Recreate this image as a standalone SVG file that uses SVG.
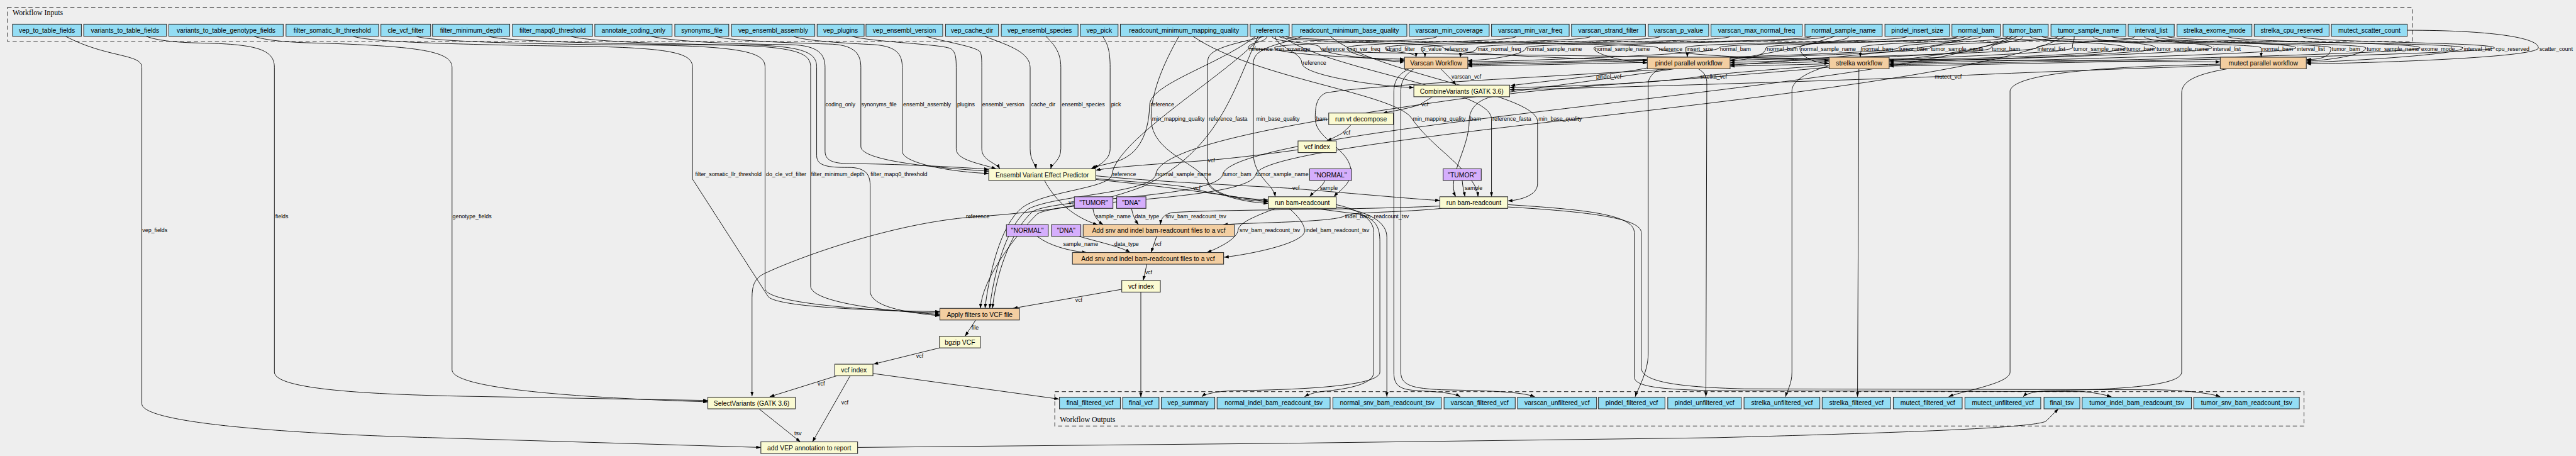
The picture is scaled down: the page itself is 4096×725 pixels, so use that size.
<svg xmlns="http://www.w3.org/2000/svg" width="4096" height="725" viewBox="0 0 4096 725">
<defs>
<style>
.bg{fill:#eeeeee}
.cl{fill:none;stroke:#444;stroke-width:1.5;stroke-dasharray:9,6}
.io{fill:#94ddf4;stroke:#333;stroke-width:1.5}
.st{fill:#fafad2;stroke:#333;stroke-width:1.5}
.wf{fill:#f3cea1;stroke:#333;stroke-width:1.5}
.cn{fill:#d5aefc;stroke:#333;stroke-width:1.5}
.nt{font-family:"Liberation Sans",Arial,sans-serif;font-size:14px;fill:#000;text-anchor:middle}
.ct{font-family:"Liberation Serif","Times New Roman",serif;font-size:16px;fill:#000}
.el{font-family:"Liberation Sans",Arial,sans-serif;font-size:12px;fill:#000}
.e{fill:none;stroke:#000;stroke-width:1.2;marker-end:url(#ah)}
</style>
<marker id="ah" viewBox="0 0 10 7" refX="10" refY="3.5" markerWidth="10" markerHeight="7" orient="auto" markerUnits="userSpaceOnUse"><path d="M0,0 L10,3.5 L0,7 z" fill="#000"/></marker>
</defs>
<rect class="bg" x="0" y="0" width="4096" height="725"/>
<g transform="scale(0.7395)">
<g id="clusters">
<rect class="cl" x="16" y="16" width="5171" height="73"/>
<text class="ct" x="27" y="32">Workflow Inputs</text>
<rect class="cl" x="2268" y="842" width="2686" height="74"/>
<text class="ct" x="2279" y="908">Workflow Outputs</text>
</g>
<g id="connectors">
<!-- fields to report -->
<path class="e" d="M141,78 C230,125 305,115 305,145 L305,868 C305,915 700,935 930,941 L1636,962"/>
<path class="e" d="M314,78 C345,90 400,92 450,93 C560,96 590,110 590,145 L590,800 C590,838 800,848 1000,852 L1522,861"/>
<path class="e" d="M546,78 C580,90 650,92 700,93 C900,100 972,110 972,145 L972,795 C972,840 1300,857 1522,864"/>
<!-- filter params to Apply filters -->
<path class="e" d="M759,78 C790,88 900,95 1276,100 C1460,104 1489,118 1489,145 L1489,385 L1652,638 C1675,662 1900,668 2021,670"/>
<path class="e" d="M895,78 C920,88 1100,95 1400,97 C1620,100 1645,118 1645,145 L1645,620 C1645,655 1900,668 2021,673"/>
<path class="e" d="M1050,78 C1080,88 1300,95 1560,97 C1725,100 1743,118 1743,145 L1743,615 C1743,650 1900,668 2021,676"/>
<path class="e" d="M1227,78 C1260,88 1400,95 1620,97 C1740,100 1756,118 1756,145 L1756,335 C1756,360 1790,360 1830,360 C1866,362 1871,380 1871,400 L1871,625 C1871,660 1950,672 2021,679"/>
<!-- VEP inputs -->
<path class="e" d="M1400,78 C1440,88 1560,95 1700,96 C1762,98 1774,118 1774,145 L1774,325 C1774,350 1800,352 1840,352 C1950,353 2070,360 2126,364"/>
<path class="e" d="M1537,78 C1570,88 1700,92 1790,95 C1840,98 1851,118 1851,145 L1851,315 C1851,345 2000,360 2126,368"/>
<path class="e" d="M1706,78 C1730,88 1820,93 1880,96 C1930,100 1940,118 1940,145 L1940,325 C1940,352 2050,370 2126,373"/>
<path class="e" d="M1832,78 C1870,90 2030,95 2045,105 C2055,112 2056,125 2056,145 L2056,320 C2056,345 2110,352 2142,363"/>
<path class="e" d="M1991,78 C2030,90 2100,100 2108,112 C2111,120 2111,130 2111,145 L2111,320 C2111,345 2142,350 2150,363"/>
<path class="e" d="M2117,78 C2160,95 2215,110 2215,145 L2215,320 C2215,345 2226,352 2228,363"/>
<path class="e" d="M2249,78 C2265,95 2281,110 2281,145 L2281,320 C2281,345 2262,352 2259,363"/>
<path class="e" d="M2371,78 C2382,95 2387,110 2387,145 L2387,320 C2387,345 2360,355 2352,363"/>
<path class="e" d="M2700,78 C2620,140 2474,180 2472,225 C2470,300 2440,340 2390,350 C2370,355 2355,358 2346,363"/>
<path class="e" d="M2791,322 C2700,335 2620,343 2594,345 C2500,352 2400,358 2356,366"/>
<!-- reference to SelectVariants and Apply filters -->
<path class="e" d="M2705,78 C2650,200 2620,320 2460,400 C2330,450 2200,458 2075,468 C1900,485 1700,560 1640,590 C1622,600 1617,615 1617,640 L1617,852"/>
<path class="e" d="M2712,78 C2640,160 2400,300 2391,375 C2388,405 2250,410 2200,445 C2150,480 2125,600 2118,663"/>
<path class="e" d="M3945,78 C3700,170 2500,250 2485,375 C2480,415 2260,420 2210,450 C2160,490 2135,600 2128,663"/>
<path class="e" d="M4328,78 C4100,190 2650,270 2629,375 C2620,425 2270,425 2220,455 C2170,500 2140,600 2134,663"/>
<path class="e" d="M4440,78 C4200,210 2720,290 2700,375 C2690,430 2280,430 2230,460 C2180,510 2112,600 2108,663"/>
<!-- readcount inputs -->
<path class="e" d="M2535,78 C2500,140 2475,200 2475,255 C2475,330 2580,350 2600,395 C2612,420 2680,433 2727,433"/>
<path class="e" d="M2718,78 C2680,90 2597,100 2597,130 L2597,390 C2597,418 2680,436 2727,437"/>
<path class="e" d="M2800,78 C2760,95 2695,100 2695,135 L2695,330 C2695,380 2738,395 2742,423"/>
<path class="e" d="M4240,78 C4100,140 3000,170 2850,200 C2830,210 2828,230 2828,255 C2828,300 2905,320 2905,370 C2905,395 2880,410 2868,423"/>
<path class="e" d="M2565,78 C2700,170 3000,200 3036,255 C3080,320 3175,370 3178,423"/>
<path class="e" d="M4338,78 C4200,150 3300,180 3200,210 C3170,220 3159,240 3159,260 C3159,320 3110,380 3130,423"/>
<path class="e" d="M2757,78 C2850,150 3205,190 3207,255 L3207,423"/>
<path class="e" d="M2860,78 C2960,160 3300,200 3306,260 L3306,395 C3306,420 3270,430 3242,432"/>
<path class="e" d="M2356,384 C2450,392 2540,398 2563,405 C2610,418 2680,428 2727,430"/>
<path class="e" d="M2356,378 C2500,392 2700,400 2776,405 C2900,415 3040,428 3096,431"/>
<path class="e" d="M2849,388 C2843,402 2825,412 2816,423"/>
<path class="e" d="M3144,388 C3145,402 3148,412 3150,423"/>
<!-- add readcounts -->
<path class="e" d="M2246,388 C2262,420 2300,465 2360,483"/>
<path class="e" d="M2350,448 C2352,465 2360,475 2372,483"/>
<path class="e" d="M2433,448 C2436,465 2442,475 2448,483"/>
<path class="e" d="M3096,443 C2900,452 2620,450 2520,457 C2500,462 2496,472 2495,483"/>
<path class="e" d="M3100,448 C3000,458 2900,455 2890,465 C2860,478 2700,478 2630,483"/>
<path class="e" d="M2742,448 C2700,465 2664,478 2662,495 C2660,515 2615,535 2595,543"/>
<path class="e" d="M2772,448 C2795,468 2806,485 2805,498 C2800,525 2680,548 2632,553"/>
<path class="e" d="M2230,508 C2255,528 2300,540 2337,543"/>
<path class="e" d="M2320,508 C2360,520 2410,530 2430,543"/>
<path class="e" d="M2487,508 L2475,543"/>
<path class="e" d="M2466,568 L2458,603"/>
<path class="e" d="M2412,622 L2178,663"/>
<path class="e" d="M2098,688 L2075,723"/>
<path class="e" d="M2020,748 L1878,783"/>
<path class="e" d="M1799,808 L1655,853"/>
<path class="e" d="M1828,808 L1747,950"/>
<path class="e" d="M1632,879 L1721,950"/>
<path class="e" d="M1877,803 L2277,858"/>
<path class="e" d="M2453,628 L2453,854"/>
<path class="e" d="M1844,962 L2770,953 L3690,941 C4100,930 4380,920 4400,905 C4410,895 4420,885 4426,879"/>
<!-- varscan inputs -->
<path class="e" d="M3090,78 C3090,92 2740,90 2740,103 C2740,118 2980,127 3020,127"/>
<path class="e" d="M2735,78 C2735,92 2839,90 2839,103 C2839,118 2980,130 3020,130"/>
<path class="e" d="M3260,78 C3260,92 2896,90 2896,103 C2896,118 2980,133 3020,133"/>
<path class="e" d="M3420,78 C3420,92 2978,90 2978,103 C2978,115 3045,110 3045,123"/>
<path class="e" d="M3570,78 C3570,92 3056,90 3056,103 C3056,115 3064,110 3064,123"/>
<path class="e" d="M3720,78 C3720,92 3175,90 3175,103 C3175,115 3140,110 3140,123"/>
<path class="e" d="M3895,78 C3895,92 3281,90 3281,103 C3281,118 3196,130 3156,130"/>
<path class="e" d="M4210,78 C4210,92 3696,90 3696,103 C3696,118 3196,133 3156,133"/>
<path class="e" d="M4318,78 C4318,92 4082,90 4082,103 C4082,118 3196,136 3156,136"/>
<path class="e" d="M4425,78 C4425,92 4150,90 4150,103 C4150,118 3196,139 3156,139"/>
<path class="e" d="M4590,78 C4590,92 4379,90 4379,103 C4379,118 3196,142 3156,142"/>
<!-- pindel inputs -->
<path class="e" d="M2750,78 C2750,92 3104,90 3104,103 C3104,118 3502,130 3542,130"/>
<path class="e" d="M3925,78 C3925,92 3427,90 3427,103 C3427,118 3502,135 3542,135"/>
<path class="e" d="M4100,78 C4100,92 3624,90 3624,103 C3624,115 3628,110 3628,123"/>
<path class="e" d="M4225,78 C4225,92 3797,90 3797,103 C3797,118 3760,130 3720,130"/>
<path class="e" d="M4350,78 C4350,92 4281,90 4281,103 C4281,118 3760,134 3720,134"/>
<path class="e" d="M4460,78 C4460,92 4456,90 4456,103 C4456,118 3760,138 3720,138"/>
<path class="e" d="M4610,78 C4610,92 4756,90 4756,103 C4756,118 3760,142 3720,142"/>
<!-- strelka inputs -->
<path class="e" d="M2764,78 C2764,92 3565,90 3565,103 C3565,118 3893,130 3933,130"/>
<path class="e" d="M3975,78 C3975,92 3870,90 3870,103 C3870,118 3893,136 3933,136"/>
<path class="e" d="M4260,78 C4260,92 4002,90 4002,103 C4002,115 4000,110 4000,123"/>
<path class="e" d="M4365,78 C4365,92 4570,90 4570,103 C4570,118 4102,130 4062,130"/>
<path class="e" d="M4500,78 C4500,92 4635,90 4635,103 C4635,118 4102,133 4062,133"/>
<path class="e" d="M4635,78 C4635,92 4937,90 4937,103 C4937,118 4102,136 4062,136"/>
<path class="e" d="M4790,78 C4790,92 5204,90 5204,103 C5204,118 4102,139 4062,139"/>
<path class="e" d="M4950,78 C4950,92 5364,90 5364,103 C5364,118 4102,142 4062,142"/>
<!-- mutect inputs -->
<path class="e" d="M2724,78 C2724,92 2684,90 2684,103 C2684,118 4734,133 4774,133"/>
<path class="e" d="M4285,78 C4285,92 4862,90 4862,103 C4862,115 4862,110 4862,123"/>
<path class="e" d="M4390,78 C4390,92 5012,90 5012,103 C5012,118 4999,128 4959,128"/>
<path class="e" d="M4540,78 C4540,92 5087,90 5087,103 C5087,118 4999,131 4959,131"/>
<path class="e" d="M4660,78 C4660,92 5296,90 5296,103 C5296,118 4999,134 4959,134"/>
<path class="e" d="M5176,65 C5350,65 5458,80 5458,103 C5458,125 5050,137 4959,137"/>
<!-- combine -->
<path class="e" d="M2742,78 C2742,100 2799,112 2799,135 C2799,165 2990,188 3040,188"/>
<path class="e" d="M3098,148 C3110,160 3120,170 3131,183"/>
<path class="e" d="M3542,146 C3500,155 3440,160 3428,163 C3350,172 3280,180 3248,184"/>
<path class="e" d="M3933,140 C3800,150 3700,158 3653,165 C3550,180 3350,187 3246,188"/>
<path class="e" d="M4774,141 C4500,150 4300,158 4157,165 C3900,175 3400,190 3246,193"/>
<path class="e" d="M3080,208 C3070,215 3060,220 3053,225 C3030,233 2990,240 2973,243"/>
<path class="e" d="M2905,268 C2900,275 2890,282 2885,287 C2870,295 2860,300 2853,303"/>
<!-- workflow outputs -->
<path class="e" d="M4789,148 C4720,160 4691,175 4691,200 L4691,800 C4691,835 4500,838 4400,840 C4370,842 4355,848 4350,853"/>
<path class="e" d="M4774,138 C4500,143 4330,160 4322,195 L4322,800 C4322,825 4220,840 4190,853"/>
<path class="e" d="M3997,148 L3994,853"/>
<path class="e" d="M3930,142 C3870,160 3853,180 3853,195 L3853,800 C3853,825 3843,840 3839,853"/>
<path class="e" d="M3567,148 C3550,160 3544,170 3544,180 L3544,760 C3544,800 3520,840 3516,853"/>
<path class="e" d="M3652,148 C3668,158 3670,168 3670,180 L3668,853"/>
<path class="e" d="M3030,148 C3005,160 2997,175 2997,200 L2997,800 C2997,830 3010,838 3050,840 C3090,842 3125,845 3140,853"/>
<path class="e" d="M3040,148 C3015,165 3012,180 3012,200 L3012,800 C3012,830 3040,835 3100,838 C3200,840 3270,842 3300,853"/>
<path class="e" d="M2873,440 C2920,450 2954,470 2954,500 L2954,800 C2954,830 2880,838 2840,842 C2820,845 2810,850 2805,853"/>
<path class="e" d="M2873,445 C2950,455 2982,480 2982,510 L2982,853"/>
<path class="e" d="M2356,386 C2600,410 2750,440 2920,460 C2960,470 2967,490 2967,520 L2967,800 C2967,830 2800,838 2650,840 C2610,842 2590,848 2584,853"/>
<path class="e" d="M3242,440 C3400,450 3514,460 3514,500 L3514,810 C3514,830 3560,838 3700,840 L4480,842 C4510,845 4530,850 4540,853"/>
<path class="e" d="M3242,445 C3420,455 3529,470 3529,500 L3529,790 C3529,820 3600,832 3750,836 L4640,838 C4720,840 4760,848 4774,853"/>
</g>
<g id="edge-labels">
<text class="el" x="306" y="499">vep_fields</text>
<text class="el" x="592" y="469">fields</text>
<text class="el" x="973" y="469">genotype_fields</text>
<text class="el" x="1495" y="379">filter_somatic_llr_threshold</text>
<text class="el" x="1647" y="379">do_cle_vcf_filter</text>
<text class="el" x="1744" y="379">filter_minimum_depth</text>
<text class="el" x="1872" y="379">filter_mapq0_threshold</text>
<text class="el" x="1775" y="229">coding_only</text>
<text class="el" x="1852" y="229">synonyms_file</text>
<text class="el" x="1942" y="229">ensembl_assembly</text>
<text class="el" x="2058" y="229">plugins</text>
<text class="el" x="2112" y="229">ensembl_version</text>
<text class="el" x="2217" y="229">cache_dir</text>
<text class="el" x="2283" y="229">ensembl_species</text>
<text class="el" x="2389" y="229">pick</text>
<text class="el" x="2474" y="229">reference</text>
<text class="el" x="2477" y="259">min_mapping_quality</text>
<text class="el" x="2599" y="259">reference_fasta</text>
<text class="el" x="2701" y="259">min_base_quality</text>
<text class="el" x="2830" y="259">bam</text>
<text class="el" x="3038" y="259">min_mapping_quality</text>
<text class="el" x="3161" y="259">bam</text>
<text class="el" x="3209" y="259">reference_fasta</text>
<text class="el" x="3308" y="259">min_base_quality</text>
<text class="el" x="2597" y="349">vcf</text>
<text class="el" x="2392" y="379">reference</text>
<text class="el" x="2486" y="379">normal_sample_name</text>
<text class="el" x="2630" y="379">tumor_bam</text>
<text class="el" x="2701" y="379">tumor_sample_name</text>
<text class="el" x="2566" y="409">vcf</text>
<text class="el" x="2779" y="409">vcf</text>
<text class="el" x="2838" y="409">sample</text>
<text class="el" x="3149" y="409">sample</text>
<text class="el" x="2298" y="439">vcf</text>
<text class="el" x="2356" y="469">sample_name</text>
<text class="el" x="2440" y="469">data_type</text>
<text class="el" x="2506" y="469">snv_bam_readcount_tsv</text>
<text class="el" x="2892" y="469">indel_bam_readcount_tsv</text>
<text class="el" x="2077" y="469">reference</text>
<text class="el" x="2665" y="499">snv_bam_readcount_tsv</text>
<text class="el" x="2807" y="499">indel_bam_readcount_tsv</text>
<text class="el" x="2286" y="529">sample_name</text>
<text class="el" x="2396" y="529">data_type</text>
<text class="el" x="2482" y="529">vcf</text>
<text class="el" x="2462" y="589">vcf</text>
<text class="el" x="2312" y="649">vcf</text>
<text class="el" x="2089" y="709">file</text>
<text class="el" x="1970" y="769">vcf</text>
<text class="el" x="1758" y="829">vcf</text>
<text class="el" x="1809" y="869">vcf</text>
<text class="el" x="1708" y="936">tsv</text>
<text class="el" x="3121" y="169">varscan_vcf</text>
<text class="el" x="3432" y="169">pindel_vcf</text>
<text class="el" x="3656" y="169">strelka_vcf</text>
<text class="el" x="4160" y="169">mutect_vcf</text>
<text class="el" x="3056" y="229">vcf</text>
<text class="el" x="2888" y="289">vcf</text>
<text class="el" x="2801" y="139">reference</text>
<text class="el" x="2686" y="109">reference</text>
<text class="el" x="2742" y="109">min_coverage</text>
<text class="el" x="2841" y="109">reference</text>
<text class="el" x="2898" y="109">min_var_freq</text>
<text class="el" x="2980" y="109">strand_filter</text>
<text class="el" x="3058" y="109">p_value</text>
<text class="el" x="3106" y="109">reference</text>
<text class="el" x="3177" y="109">max_normal_freq</text>
<text class="el" x="3283" y="109">normal_sample_name</text>
<text class="el" x="3429" y="109">normal_sample_name</text>
<text class="el" x="3567" y="109">reference</text>
<text class="el" x="3626" y="109">insert_size</text>
<text class="el" x="3698" y="109">normal_bam</text>
<text class="el" x="3799" y="109">normal_bam</text>
<text class="el" x="3872" y="109">normal_sample_name</text>
<text class="el" x="4004" y="109">normal_bam</text>
<text class="el" x="4084" y="109">tumor_bam</text>
<text class="el" x="4152" y="109">tumor_sample_name</text>
<text class="el" x="4283" y="109">tumor_bam</text>
<text class="el" x="4381" y="109">interval_list</text>
<text class="el" x="4458" y="109">tumor_sample_name</text>
<text class="el" x="4572" y="109">tumor_bam</text>
<text class="el" x="4637" y="109">tumor_sample_name</text>
<text class="el" x="4758" y="109">interval_list</text>
<text class="el" x="4864" y="109">normal_bam</text>
<text class="el" x="4939" y="109">interval_list</text>
<text class="el" x="5014" y="109">tumor_bam</text>
<text class="el" x="5089" y="109">tumor_sample_name</text>
<text class="el" x="5206" y="109">exome_mode</text>
<text class="el" x="5298" y="109">interval_list</text>
<text class="el" x="5366" y="109">cpu_reserved</text>
<text class="el" x="5460" y="109">scatter_count</text>
</g>
<g id="inputs">
<g id="in_vep_to_table_fields"><rect class="io" x="27" y="52" width="148" height="26"/><text class="nt" x="101" y="70">vep_to_table_fields</text></g>
<g id="in_variants_to_table_fields"><rect class="io" x="180" y="52" width="178" height="26"/><text class="nt" x="269" y="70">variants_to_table_fields</text></g>
<g id="in_variants_to_table_genotype_fields"><rect class="io" x="363" y="52" width="246" height="26"/><text class="nt" x="486" y="70">variants_to_table_genotype_fields</text></g>
<g id="in_filter_somatic_llr_threshold"><rect class="io" x="615" y="52" width="199" height="26"/><text class="nt" x="714.5" y="70">filter_somatic_llr_threshold</text></g>
<g id="in_cle_vcf_filter"><rect class="io" x="819" y="52" width="107" height="26"/><text class="nt" x="872.5" y="70">cle_vcf_filter</text></g>
<g id="in_filter_minimum_depth"><rect class="io" x="930" y="52" width="166" height="26"/><text class="nt" x="1013" y="70">filter_minimum_depth</text></g>
<g id="in_filter_mapq0_threshold"><rect class="io" x="1102" y="52" width="172" height="26"/><text class="nt" x="1188" y="70">filter_mapq0_threshold</text></g>
<g id="in_annotate_coding_only"><rect class="io" x="1279" y="52" width="166" height="26"/><text class="nt" x="1362" y="70">annotate_coding_only</text></g>
<g id="in_synonyms_file"><rect class="io" x="1451" y="52" width="116" height="26"/><text class="nt" x="1509" y="70">synonyms_file</text></g>
<g id="in_vep_ensembl_assembly"><rect class="io" x="1573" y="52" width="179" height="26"/><text class="nt" x="1662.5" y="70">vep_ensembl_assembly</text></g>
<g id="in_vep_plugins"><rect class="io" x="1757" y="52" width="101" height="26"/><text class="nt" x="1807.5" y="70">vep_plugins</text></g>
<g id="in_vep_ensembl_version"><rect class="io" x="1862" y="52" width="165" height="26"/><text class="nt" x="1944.5" y="70">vep_ensembl_version</text></g>
<g id="in_vep_cache_dir"><rect class="io" x="2033" y="52" width="114" height="26"/><text class="nt" x="2090" y="70">vep_cache_dir</text></g>
<g id="in_vep_ensembl_species"><rect class="io" x="2153" y="52" width="165" height="26"/><text class="nt" x="2235.5" y="70">vep_ensembl_species</text></g>
<g id="in_vep_pick"><rect class="io" x="2323" y="52" width="81" height="26"/><text class="nt" x="2363.5" y="70">vep_pick</text></g>
<g id="in_readcount_minimum_mapping_quality"><rect class="io" x="2409" y="52" width="274" height="26"/><text class="nt" x="2546" y="70">readcount_minimum_mapping_quality</text></g>
<g id="in_reference"><rect class="io" x="2688" y="52" width="84" height="26"/><text class="nt" x="2730" y="70">reference</text></g>
<g id="in_readcount_minimum_base_quality"><rect class="io" x="2778" y="52" width="247" height="26"/><text class="nt" x="2901.5" y="70">readcount_minimum_base_quality</text></g>
<g id="in_varscan_min_coverage"><rect class="io" x="3030" y="52" width="172" height="26"/><text class="nt" x="3116" y="70">varscan_min_coverage</text></g>
<g id="in_varscan_min_var_freq"><rect class="io" x="3207" y="52" width="167" height="26"/><text class="nt" x="3290.5" y="70">varscan_min_var_freq</text></g>
<g id="in_varscan_strand_filter"><rect class="io" x="3379" y="52" width="159" height="26"/><text class="nt" x="3458.5" y="70">varscan_strand_filter</text></g>
<g id="in_varscan_p_value"><rect class="io" x="3544" y="52" width="130" height="26"/><text class="nt" x="3609" y="70">varscan_p_value</text></g>
<g id="in_varscan_max_normal_freq"><rect class="io" x="3679" y="52" width="196" height="26"/><text class="nt" x="3777" y="70">varscan_max_normal_freq</text></g>
<g id="in_normal_sample_name"><rect class="io" x="3881" y="52" width="166" height="26"/><text class="nt" x="3964" y="70">normal_sample_name</text></g>
<g id="in_pindel_insert_size"><rect class="io" x="4053" y="52" width="139" height="26"/><text class="nt" x="4122.5" y="70">pindel_insert_size</text></g>
<g id="in_normal_bam"><rect class="io" x="4197" y="52" width="104" height="26"/><text class="nt" x="4249" y="70">normal_bam</text></g>
<g id="in_tumor_bam"><rect class="io" x="4307" y="52" width="97" height="26"/><text class="nt" x="4355.5" y="70">tumor_bam</text></g>
<g id="in_tumor_sample_name"><rect class="io" x="4410" y="52" width="161" height="26"/><text class="nt" x="4490.5" y="70">tumor_sample_name</text></g>
<g id="in_interval_list"><rect class="io" x="4576" y="52" width="99" height="26"/><text class="nt" x="4625.5" y="70">interval_list</text></g>
<g id="in_strelka_exome_mode"><rect class="io" x="4681" y="52" width="161" height="26"/><text class="nt" x="4761.5" y="70">strelka_exome_mode</text></g>
<g id="in_strelka_cpu_reserved"><rect class="io" x="4847" y="52" width="161" height="26"/><text class="nt" x="4927.5" y="70">strelka_cpu_reserved</text></g>
<g id="in_mutect_scatter_count"><rect class="io" x="5013" y="52" width="163" height="26"/><text class="nt" x="5094.5" y="70">mutect_scatter_count</text></g>
</g>
<g id="outputs">
<g id="out_final_filtered_vcf"><rect class="io" x="2278" y="854" width="131" height="25"/><text class="nt" x="2343.5" y="871">final_filtered_vcf</text></g>
<g id="out_final_vcf"><rect class="io" x="2414" y="854" width="78" height="25"/><text class="nt" x="2453" y="871">final_vcf</text></g>
<g id="out_vep_summary"><rect class="io" x="2497" y="854" width="115" height="25"/><text class="nt" x="2554.5" y="871">vep_summary</text></g>
<g id="out_normal_indel_bam_readcount_tsv"><rect class="io" x="2617" y="854" width="243" height="25"/><text class="nt" x="2738.5" y="871">normal_indel_bam_readcount_tsv</text></g>
<g id="out_normal_snv_bam_readcount_tsv"><rect class="io" x="2866" y="854" width="233" height="25"/><text class="nt" x="2982.5" y="871">normal_snv_bam_readcount_tsv</text></g>
<g id="out_varscan_filtered_vcf"><rect class="io" x="3105" y="854" width="153" height="25"/><text class="nt" x="3181.5" y="871">varscan_filtered_vcf</text></g>
<g id="out_varscan_unfiltered_vcf"><rect class="io" x="3263" y="854" width="170" height="25"/><text class="nt" x="3348" y="871">varscan_unfiltered_vcf</text></g>
<g id="out_pindel_filtered_vcf"><rect class="io" x="3437" y="854" width="143" height="25"/><text class="nt" x="3508.5" y="871">pindel_filtered_vcf</text></g>
<g id="out_pindel_unfiltered_vcf"><rect class="io" x="3586" y="854" width="158" height="25"/><text class="nt" x="3665" y="871">pindel_unfiltered_vcf</text></g>
<g id="out_strelka_unfiltered_vcf"><rect class="io" x="3750" y="854" width="163" height="25"/><text class="nt" x="3831.5" y="871">strelka_unfiltered_vcf</text></g>
<g id="out_strelka_filtered_vcf"><rect class="io" x="3918" y="854" width="147" height="25"/><text class="nt" x="3991.5" y="871">strelka_filtered_vcf</text></g>
<g id="out_mutect_filtered_vcf"><rect class="io" x="4071" y="854" width="148" height="25"/><text class="nt" x="4145" y="871">mutect_filtered_vcf</text></g>
<g id="out_mutect_unfiltered_vcf"><rect class="io" x="4225" y="854" width="163" height="25"/><text class="nt" x="4306.5" y="871">mutect_unfiltered_vcf</text></g>
<g id="out_final_tsv"><rect class="io" x="4395" y="854" width="77" height="25"/><text class="nt" x="4433.5" y="871">final_tsv</text></g>
<g id="out_tumor_indel_bam_readcount_tsv"><rect class="io" x="4477" y="854" width="235" height="25"/><text class="nt" x="4594.5" y="871">tumor_indel_bam_readcount_tsv</text></g>
<g id="out_tumor_snv_bam_readcount_tsv"><rect class="io" x="4717" y="854" width="227" height="25"/><text class="nt" x="4830.5" y="871">tumor_snv_bam_readcount_tsv</text></g>
</g>
<g id="steps">
<g id="st_vep"><rect class="st" x="2126" y="363" width="230" height="25"/><text class="nt" x="2241" y="381">Ensembl Variant Effect Predictor</text></g>
<g id="st_varscan"><rect class="wf" x="3020" y="123" width="136" height="25"/><text class="nt" x="3088" y="141">Varscan Workflow</text></g>
<g id="st_pindel"><rect class="wf" x="3542" y="123" width="178" height="25"/><text class="nt" x="3631" y="141">pindel parallel workflow</text></g>
<g id="st_strelka"><rect class="wf" x="3933" y="123" width="129" height="25"/><text class="nt" x="3997.5" y="141">strelka workflow</text></g>
<g id="st_mutect"><rect class="wf" x="4774" y="123" width="185" height="25"/><text class="nt" x="4866.5" y="141">mutect parallel workflow</text></g>
<g id="st_combine"><rect class="st" x="3040" y="183" width="206" height="25"/><text class="nt" x="3143" y="201">CombineVariants (GATK 3.6)</text></g>
<g id="st_decompose"><rect class="st" x="2857" y="243" width="139" height="25"/><text class="nt" x="2926.5" y="261">run vt decompose</text></g>
<g id="st_decompose_index"><rect class="st" x="2791" y="303" width="82" height="25"/><text class="nt" x="2832" y="321">vcf index</text></g>
<g id="c_normal_a"><rect class="cn" x="2816" y="363" width="90" height="25"/><text class="nt" x="2861" y="381">"NORMAL"</text></g>
<g id="c_tumor_a"><rect class="cn" x="3103" y="363" width="82" height="25"/><text class="nt" x="3144" y="381">"TUMOR"</text></g>
<g id="st_normal_readcount"><rect class="st" x="2727" y="423" width="146" height="25"/><text class="nt" x="2800" y="441">run bam-readcount</text></g>
<g id="st_tumor_readcount"><rect class="st" x="3096" y="423" width="146" height="25"/><text class="nt" x="3169" y="441">run bam-readcount</text></g>
<g id="c_tumor_b"><rect class="cn" x="2310" y="423" width="83" height="25"/><text class="nt" x="2351.5" y="441">"TUMOR"</text></g>
<g id="c_dna_b"><rect class="cn" x="2401" y="423" width="63" height="25"/><text class="nt" x="2432.5" y="441">"DNA"</text></g>
<g id="st_add_tumor"><rect class="wf" x="2329" y="483" width="325" height="25"/><text class="nt" x="2491.5" y="501">Add snv and indel bam-readcount files to a vcf</text></g>
<g id="c_normal_c"><rect class="cn" x="2164" y="483" width="90" height="25"/><text class="nt" x="2209" y="501">"NORMAL"</text></g>
<g id="c_dna_c"><rect class="cn" x="2261" y="483" width="63" height="25"/><text class="nt" x="2292.5" y="501">"DNA"</text></g>
<g id="st_add_normal"><rect class="wf" x="2306" y="543" width="325" height="25"/><text class="nt" x="2468.5" y="561">Add snv and indel bam-readcount files to a vcf</text></g>
<g id="st_index"><rect class="st" x="2412" y="603" width="83" height="25"/><text class="nt" x="2453.5" y="621">vcf index</text></g>
<g id="st_filter"><rect class="wf" x="2021" y="663" width="171" height="25"/><text class="nt" x="2106.5" y="681">Apply filters to VCF file</text></g>
<g id="st_bgzip"><rect class="st" x="2020" y="723" width="88" height="25"/><text class="nt" x="2064" y="741">bgzip VCF</text></g>
<g id="st_filter_index"><rect class="st" x="1795" y="783" width="82" height="25"/><text class="nt" x="1836" y="801">vcf index</text></g>
<g id="st_select"><rect class="st" x="1522" y="854" width="188" height="25"/><text class="nt" x="1616" y="872">SelectVariants (GATK 3.6)</text></g>
<g id="st_add_vep"><rect class="st" x="1636" y="950" width="208" height="25"/><text class="nt" x="1740" y="968">add VEP annotation to report</text></g>
</g>
</g>
</svg>
